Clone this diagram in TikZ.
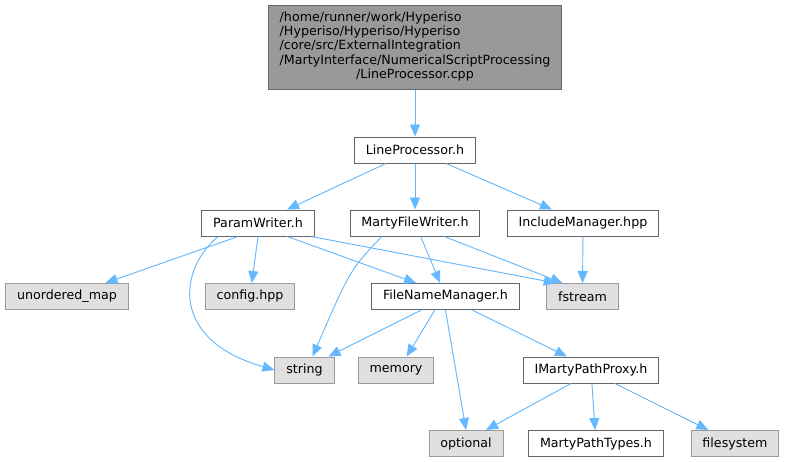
\documentclass[tikz,border=0pt]{standalone}
\usepackage{fontspec}
\setmainfont{DejaVu Sans}
\usetikzlibrary{arrows.meta}
\definecolor{edgeblue}{HTML}{63B8FF}
\definecolor{sysfill}{HTML}{E0E0E0}
\definecolor{sysline}{HTML}{999999}
\definecolor{fileline}{HTML}{666666}
\tikzset{
  file/.style={draw=fileline,fill=white,line width=0.75pt,minimum height=19.5pt,inner xsep=8.5pt,inner ysep=2pt,font=\fontsize{9.5}{11}\selectfont},
  sys/.style={file,draw=sysline,fill=sysfill},
  edge/.style={draw=edgeblue,line width=0.7pt,-{Stealth[length=9pt,width=7.5pt,inset=0pt]}}
}
\begin{document}
\begin{tikzpicture}[x=0.75pt,y=-0.75pt]
\useasboundingbox (0,0) rectangle (786,461);
\node[file,fill=sysline,minimum height=63pt,font=\fontsize{9.5}{10.7}\selectfont] (top) at (415,47) {\begin{tabular}{@{}l@{}}/home/runner/work/Hyperiso\\/Hyperiso/Hyperiso/Hyperiso\\/core/src/ExternalIntegration\\/MartyInterface/NumericalScriptProcessing\\\multicolumn{1}{@{}c@{}}{/LineProcessor.cpp}\end{tabular}};
\node[file] (lp) at (415,150) {LineProcessor.h};
\node[file] (pw) at (258,223) {ParamWriter.h};
\node[file] (mfw) at (415,223) {MartyFileWriter.h};
\node[file] (im) at (583,223) {IncludeManager.hpp};
\node[sys] (um) at (67,296.5) {unordered\_map};
\node[sys] (cfg) at (250,296.5) {config.hpp};
\node[file] (fnm) at (445.5,296.5) {FileNameManager.h};
\node[sys] (fs) at (582.5,296.5) {fstream};
\node[sys] (str) at (304.5,370) {string};
\node[sys] (mem) at (396,370) {memory};
\node[file] (impp) at (591,370) {IMartyPathProxy.h};
\node[sys] (opt) at (466,443.5) {optional};
\node[file] (mpt) at (596,443.5) {MartyPathTypes.h};
\node[sys] (fsys) at (735,443.5) {filesystem};
\draw[edge] (top) -- (lp);
\draw[edge] (lp) -- (pw);
\draw[edge] (lp) -- (mfw);
\draw[edge] (lp) -- (im);
\draw[edge] ([xshift=-15pt]pw.south) -- (um);
\draw[edge] (pw.south) -- (cfg);
\draw[edge] ([xshift=-30pt]pw.south) .. controls (178,270) and (170,340) .. (str.west);
\draw[edge] ([xshift=22pt]pw.south) -- ([xshift=-22pt]fnm.north);
\draw[edge] ([xshift=40pt]pw.south) -- ([xshift=-20pt]fs.north);
\draw[edge] ([xshift=-25pt]mfw.south) .. controls (350,270) .. ([xshift=6pt]str.north);
\draw[edge] (mfw) -- ([xshift=-4pt]fnm.north);
\draw[edge] ([xshift=22pt]mfw.south) -- ([xshift=-15pt]fs.north);
\draw[edge] (im) -- (fs);
\draw[edge] ([xshift=-18pt]fnm.south) -- ([xshift=18pt]str.north);
\draw[edge] ([xshift=-8pt]fnm.south) -- ([xshift=8pt]mem.north);
\draw[edge] (fnm.south) -- (opt.north);
\draw[edge] ([xshift=20pt]fnm.south) -- ([xshift=-18pt]impp.north);
\draw[edge] ([xshift=-15pt]impp.south) -- ([xshift=15pt]opt.north);
\draw[edge] (impp) -- (mpt);
\draw[edge] ([xshift=18pt]impp.south) -- ([xshift=-20pt]fsys.north);
\end{tikzpicture}
\end{document}
